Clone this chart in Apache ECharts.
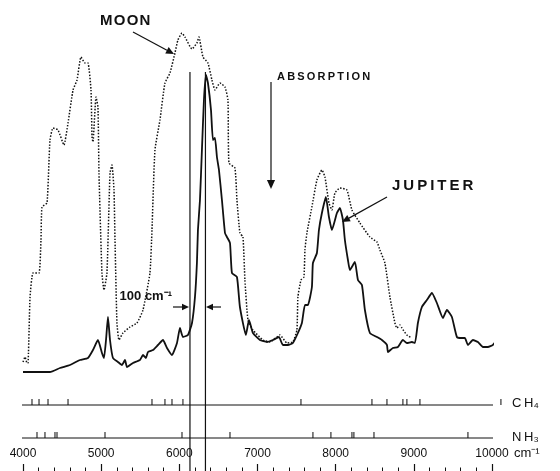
<!DOCTYPE html>
<html>
<head>
<meta charset="utf-8">
<script src="https://cdn.jsdelivr.net/npm/echarts@6/dist/echarts.min.js"></script>
<style>html,body{margin:0;padding:0;background:#fff}#c{width:560px;height:471px}</style>
</head>
<body>
<div id="c"></div>
<script>
// x-axis tick labels (wavenumber, cm^-1)
const xTicks = [4000, 5000, 6000, 7000, 8000, 9000, 10000];

// Moon spectrum (dotted) : wavenumber, relative intensity
const moonW = [4000,4026,4051,4064,4090,4128,4205,4230,4243,4307,4345,4384,4448,4524,4576,4640,4691,4742,4793,4831,4870,4883,4895,4934,4959,4972,5010,5036,5074,5113,5138,5164,5177,5202,5228,5279,5369,5458,5535,5624,5650,5688,5752,5816,5880,5944,5982,6034,6072,6162,6225,6251,6302,6366,6417,6456,6520,6584,6622,6635,6711,6737,6775,6814,6839,6878,6942,7070,7159,7287,7377,7453,7504,7517,7556,7594,7607,7632,7696,7760,7824,7863,7914,7952,7990,8054,8144,8208,8310,8438,8528,8566,8630,8694,8758,8783,8822,8847,8911,8975];
const moonI = [109,114,108,108,174,198,198,231,264,268,331,343,341,326,348,381,391,414,408,408,381,334,329,374,364,298,198,181,198,298,306,281,231,148,131,138,144,148,161,198,241,321,351,388,398,418,431,438,434,422,428,434,414,408,391,381,388,384,371,308,303,271,238,234,191,151,141,131,129,136,128,129,141,174,191,194,221,238,264,291,301,294,268,261,278,283,281,261,248,234,229,221,208,174,148,143,146,143,136,133];

// Jupiter spectrum (solid)
const jupW = [4000,4128,4345,4473,4601,4729,4831,4895,4959,5010,5036,5062,5087,5113,5151,5215,5266,5305,5330,5407,5496,5535,5573,5599,5663,5727,5791,5842,5906,5970,6008,6046,6110,6162,6200,6225,6238,6264,6289,6315,6341,6366,6405,6430,6456,6481,6507,6545,6584,6609,6648,6673,6737,6775,6852,6891,6942,7031,7121,7198,7274,7325,7389,7453,7517,7568,7607,7645,7696,7709,7760,7786,7824,7875,7914,7952,8016,8054,8093,8118,8157,8182,8246,8285,8336,8374,8438,8528,8592,8656,8669,8732,8796,8860,8911,8975,9014,9052,9103,9167,9231,9295,9372,9423,9487,9551,9615,9653,9692,9756,9820,9884,9948,10011,10062];
const jupI = [99,99,99,103,106,111,113,121,131,118,113,131,154,131,113,109,106,111,104,108,111,116,113,119,121,126,131,123,116,128,143,134,136,148,174,208,241,271,321,371,396,388,361,331,333,314,301,271,238,234,228,198,194,164,136,151,138,131,129,131,134,126,126,128,138,148,166,166,184,208,218,241,258,274,254,241,258,263,251,231,211,201,209,191,186,161,138,134,131,126,119,123,124,131,128,129,128,148,164,171,178,168,153,161,154,134,133,133,126,131,129,124,124,126,131];

// Absorption line positions
const ch4Lines = [4115,4205,4320,4576,5650,5816,5906,6046,7556,8464,8656,8860,8911,9078,10114];
const nh3Lines = [4179,4281,4409,4435,5049,6034,6648,7709,7939,8208,8233,8490,9692];
const ch4Level = 66, nh3Level = 33;
const bandSpan = [3900, 10160];

// 100 cm^-1 marker lines
const markerLines = [6136, 6334];
const markerTop = 399;

const pair = (w, v) => w.map((x, i) => [x, v[i]]);
const ink = '#111';
const FONT = 'Liberation Sans, Arial, sans-serif';

const chart = echarts.init(document.getElementById('c'), null, {renderer: 'canvas'});

function arrow(x1, y1, x2, y2, head) {
  const a = Math.atan2(y2 - y1, x2 - x1), h = head || 7, w = h * 0.45;
  const bx = x2 - h * Math.cos(a), by = y2 - h * Math.sin(a);
  return [
    {type: 'line', shape: {x1, y1, x2: bx, y2: by}, style: {stroke: ink, lineWidth: 1.2}},
    {type: 'polygon', shape: {points: [[x2, y2], [bx - w * Math.sin(a), by + w * Math.cos(a)], [bx + w * Math.sin(a), by - w * Math.cos(a)]]}, style: {fill: ink}}
  ];
}

const series = [
  {type: 'line', name: 'Moon', data: pair(moonW, moonI), symbol: 'none', smooth: 0.15, clip: false,
   lineStyle: {color: ink, width: 1.5, type: [1.5, 1.6]}, z: 3},
  {type: 'line', name: 'Jupiter', data: pair(jupW, jupI), symbol: 'none', smooth: 0.15, clip: false,
   lineStyle: {color: ink, width: 1.8}, z: 4},
  {type: 'line', data: [[bandSpan[0], ch4Level], [bandSpan[1], ch4Level]], symbol: 'none', clip: false,
   lineStyle: {color: ink, width: 1}},
  {type: 'line', data: [[bandSpan[0], nh3Level], [bandSpan[1], nh3Level]], symbol: 'none', clip: false,
   lineStyle: {color: ink, width: 1}},
  {type: 'scatter', data: ch4Lines.map(w => [w, ch4Level]), symbol: 'rect', symbolSize: [1.3, 6], symbolOffset: [0, -3],
   itemStyle: {color: ink}, clip: false, silent: true},
  {type: 'scatter', data: nh3Lines.map(w => [w, nh3Level]), symbol: 'rect', symbolSize: [1.3, 6], symbolOffset: [0, -3],
   itemStyle: {color: ink}, clip: false, silent: true}
];
markerLines.forEach(w => series.push({type: 'line', data: [[w, 0], [w, markerTop]], symbol: 'none', clip: false,
  lineStyle: {color: ink, width: 1.2}}));

const graphic = [
  {type: 'text', left: 100, top: 13, style: {text: 'M\u200AO\u200AO\u200AN', font: 'bold 15px ' + FONT, fill: ink}},
  {type: 'text', left: 277, top: 71, style: {text: 'A\u2009B\u2009S\u2009O\u2009R\u2009P\u2009T\u2009I\u2009O\u2009N', font: 'bold 11px ' + FONT, fill: ink}},
  {type: 'text', left: 392, top: 178, style: {text: 'J\u2009U\u2009P\u2009I\u2009T\u2009E\u2009R', font: 'bold 15px ' + FONT, fill: ink}},
  {type: 'text', x: 172, y: 296, style: {text: '100 cm\u207B\u00B9', font: 'bold 13px ' + FONT, fill: ink, align: 'right', verticalAlign: 'middle'}},
  {type: 'text', left: 512, top: 397, style: {text: 'C\u2009H\u2084', font: '13px ' + FONT, fill: ink}},
  {type: 'text', left: 512, top: 431, style: {text: 'N\u2009H\u2083', font: '13px ' + FONT, fill: ink}},
  {type: 'text', left: 514, top: 447, style: {text: 'cm\u207B\u00B9', font: '13px ' + FONT, fill: ink}}
].concat(
  arrow(133, 32, 174, 54, 8),
  arrow(271, 82, 271, 189, 9),
  arrow(387, 197, 342, 222, 8),
  arrow(173, 307, 189, 307, 7),
  arrow(221, 307, 206, 307, 7)
);

chart.setOption({
  animation: false,
  backgroundColor: '#fff',
  grid: {left: 23, right: 68, top: 0, bottom: 0, containLabel: false},
  xAxis: {
    type: 'value', min: xTicks[0], max: xTicks[xTicks.length - 1], interval: 1000,
    axisLine: {show: false},
    axisTick: {show: true, inside: true, length: 7, lineStyle: {color: ink, width: 1.2}},
    minorTick: {show: true, splitNumber: 5, length: 3.5, lineStyle: {color: ink, width: 1}},
    axisLabel: {inside: true, margin: 11, color: ink, fontSize: 12, fontFamily: FONT,
      formatter: v => xTicks.includes(v) ? String(v) : ''},
    splitLine: {show: false}, minorSplitLine: {show: false}
  },
  yAxis: {type: 'value', min: 0, max: 471, show: false, splitLine: {show: false}},
  series: series,
  graphic: graphic
});
</script>
</body>
</html>
